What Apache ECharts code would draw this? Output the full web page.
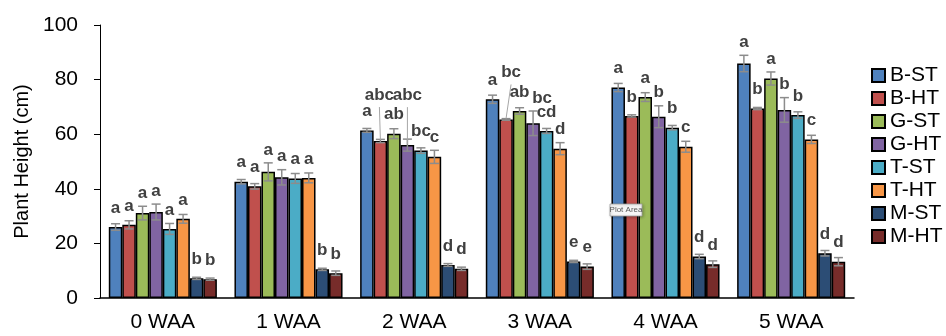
<!DOCTYPE html>
<html>
<head>
<meta charset="utf-8">
<script src="https://cdn.jsdelivr.net/npm/echarts@6/dist/echarts.min.js"></script>
<style>
  html, body { margin: 0; padding: 0; background: #fff; }
  #chart { width: 946px; height: 336px; }
</style>
</head>
<body>
<div id="chart"></div>
<script>
const categories = ['0 WAA', '1 WAA', '2 WAA', '3 WAA', '4 WAA', '5 WAA']
const seriesNames = ['B-ST', 'B-HT', 'G-ST', 'G-HT', 'T-ST', 'T-HT', 'M-ST', 'M-HT']
const yTicks = [0, 20, 40, 60, 80, 100]

// mean plant height (cm)
const bST = [26.0, 42.6, 61.4, 72.8, 77.1, 85.9]
const bHT = [26.8, 40.9, 57.5, 65.4, 66.7, 69.4]
const gST = [31.1, 46.2, 60.2, 68.5, 73.6, 80.4]
const gHT = [31.5, 44.2, 56.0, 64.0, 66.4, 68.9]
const tST = [25.3, 43.8, 54.0, 61.2, 62.4, 67.0]
const tHT = [29.0, 44.0, 51.7, 54.7, 55.4, 58.1]
const mST = [7.2, 10.5, 12.1, 13.4, 15.2, 16.4]
const mHT = [6.9, 9.1, 10.7, 11.5, 12.4, 13.3]

// error bar half-lengths
const bSTerr = [1.2, 0.8, 0.7, 1.5, 1.5, 3.0]
const bHTerr = [1.5, 1.0, 0.6, 0.3, 0.4, 0.4]
const gSTerr = [2.5, 3.3, 1.8, 1.2, 1.6, 2.4]
const gHTerr = [2.9, 2.8, 2.2, 4.5, 4.0, 4.5]
const tSTerr = [2.0, 1.8, 1.0, 0.9, 0.8, 1.2]
const tHTerr = [1.6, 1.8, 2.4, 2.2, 2.0, 1.5]
const mSTerr = [0.4, 0.4, 0.5, 0.4, 0.8, 1.0]
const mHTerr = [0.4, 0.8, 0.6, 1.0, 1.2, 1.5]

// significance letters
const bSTlet = ['a', 'a', 'a', 'a', 'a', 'a']
const bHTlet = ['a', 'a', 'abc', 'bc', 'b', 'b']
const gSTlet = ['a', 'a', 'ab', 'ab', 'a', 'a']
const gHTlet = ['a', 'a', 'abc', 'bc', 'b', 'b']
const tSTlet = ['a', 'a', 'bc', 'cd', 'b', 'b']
const tHTlet = ['a', 'a', 'c', 'd', 'c', 'c']
const mSTlet = ['b', 'b', 'd', 'e', 'd', 'd']
const mHTlet = ['b', 'b', 'd', 'e', 'd', 'd']

const values = [bST, bHT, gST, gHT, tST, tHT, mST, mHT]
const errors = [bSTerr, bHTerr, gSTerr, gHTerr, tSTerr, tHTerr, mSTerr, mHTerr]
const letters = [bSTlet, bHTlet, gSTlet, gHTlet, tSTlet, tHTlet, mSTlet, mHTlet]
const colors = ['#4f81bd', '#c0504d', '#9bbb59', '#8064a2', '#4bacc6', '#f79646', '#2c4d75', '#772c2a']

// labels that were dragged away from the bar: [series, category, dx, dy, leader]
const labelMoves = [
  [1, 2, -1, -27, true],
  [3, 2, 0, -31, true],
  [1, 3, 5, -28, true],
  [3, 3, 9, 0, false]
]

const CAT_GAP = 0.14
const FONT = 'Liberation Sans, Arial, sans-serif'

const errData = []
const errInfo = []
values.forEach((vals, s) => {
  vals.forEach((v, c) => {
    const mv = labelMoves.find(m => m[0] === s && m[1] === c)
    errData.push([c, v, errors[s][c], s])
    errInfo.push({
      text: letters[s][c],
      dx: mv ? mv[2] : 0,
      dy: mv ? mv[3] : 0,
      leader: mv ? mv[4] : false
    })
  })
})

function renderErr(params, api) {
  const c = api.value(0), v = api.value(1), e = api.value(2), s = api.value(3)
  const bandW = api.size([1, 0])[0]
  const bw = bandW * (1 - CAT_GAP) / seriesNames.length
  const x = api.coord([c, 0])[0] + (s - (seriesNames.length - 1) / 2) * bw
  const yBar = api.coord([c, v])[1]
  const yHi = api.coord([c, v + e])[1]
  const yLo = api.coord([c, v - e])[1]
  const cap = 4.5
  const info = errInfo[params.dataIndex]
  const lx = x + info.dx
  const ly = Math.min(yBar - 19, yHi - 13) + info.dy
  const errStyle = { stroke: '#8c8c8c', lineWidth: 1.5 }
  const children = [
    { type: 'line', shape: { x1: x, y1: yHi, x2: x, y2: yLo }, style: errStyle },
    { type: 'line', shape: { x1: x - cap, y1: yHi, x2: x + cap, y2: yHi }, style: errStyle },
    { type: 'line', shape: { x1: x - cap, y1: yLo, x2: x + cap, y2: yLo }, style: errStyle },
    {
      type: 'text',
      style: {
        text: info.text, x: lx, y: ly, align: 'center', verticalAlign: 'middle',
        fill: '#404040', fontSize: 17, fontWeight: 'bold', fontFamily: FONT
      }
    }
  ]
  if (info.leader) {
    children.push({
      type: 'line',
      shape: { x1: lx, y1: ly + 12, x2: x, y2: yBar - 1 },
      style: { stroke: '#a6a6a6', lineWidth: 1 }
    })
  }
  return { type: 'group', children }
}

const chart = echarts.init(document.getElementById('chart'))

const barSeries = seriesNames.map((name, i) => ({
  name,
  type: 'bar',
  data: values[i],
  barGap: 0,
  barCategoryGap: (CAT_GAP * 100) + '%',
  itemStyle: { color: colors[i], borderColor: '#000', borderWidth: 1.5 },
  emphasis: { disabled: true },
  animation: false
}))

chart.setOption({
  animation: false,
  grid: { left: 100, right: 92, top: 25, bottom: 38 },
  legend: {
    data: seriesNames,
    orient: 'vertical',
    left: 866,
    top: 60,
    itemWidth: 13,
    itemHeight: 13,
    itemGap: 2,
    icon: 'rect',
    textStyle: { color: '#000', fontSize: 21, fontFamily: FONT, lineHeight: 21 }
  },
  xAxis: {
    type: 'category',
    data: categories,
    axisLine: { lineStyle: { color: '#000', width: 1.5 } },
    axisTick: { show: false },
    axisLabel: { color: '#000', fontSize: 21, margin: 14, fontFamily: FONT }
  },
  yAxis: {
    type: 'value',
    min: yTicks[0],
    max: yTicks[yTicks.length - 1],
    interval: yTicks[1] - yTicks[0],
    name: 'Plant Height (cm)',
    nameLocation: 'middle',
    nameGap: 68,
    nameTextStyle: { color: '#000', fontSize: 20, fontFamily: FONT },
    axisLine: { show: true, lineStyle: { color: '#000', width: 1 } },
    axisTick: { show: true, length: 6, lineStyle: { color: '#000' } },
    splitLine: { show: false },
    axisLabel: { color: '#000', fontSize: 21, margin: 22, fontFamily: FONT }
  },
  series: [
    ...barSeries,
    {
      type: 'custom',
      data: errData,
      renderItem: renderErr,
      encode: { x: 0, y: 1 },
      z: 5,
      silent: true,
      animation: false
    }
  ],
  graphic: [
    {
      type: 'rect',
      z: 100,
      shape: { x: 610, y: 204, width: 32, height: 12 },
      style: { fill: '#f7f7f7', stroke: '#a0a0a0', lineWidth: 0.8, shadowBlur: 3, shadowColor: 'rgba(0,0,0,0.25)', shadowOffsetX: 1, shadowOffsetY: 1 }
    },
    {
      type: 'text',
      z: 101,
      x: 626,
      y: 210,
      style: { text: 'Plot Area', align: 'center', verticalAlign: 'middle', fill: '#555', fontSize: 8, fontFamily: FONT }
    }
  ]
})

window.addEventListener('resize', () => chart.resize())
</script>
</body>
</html>
